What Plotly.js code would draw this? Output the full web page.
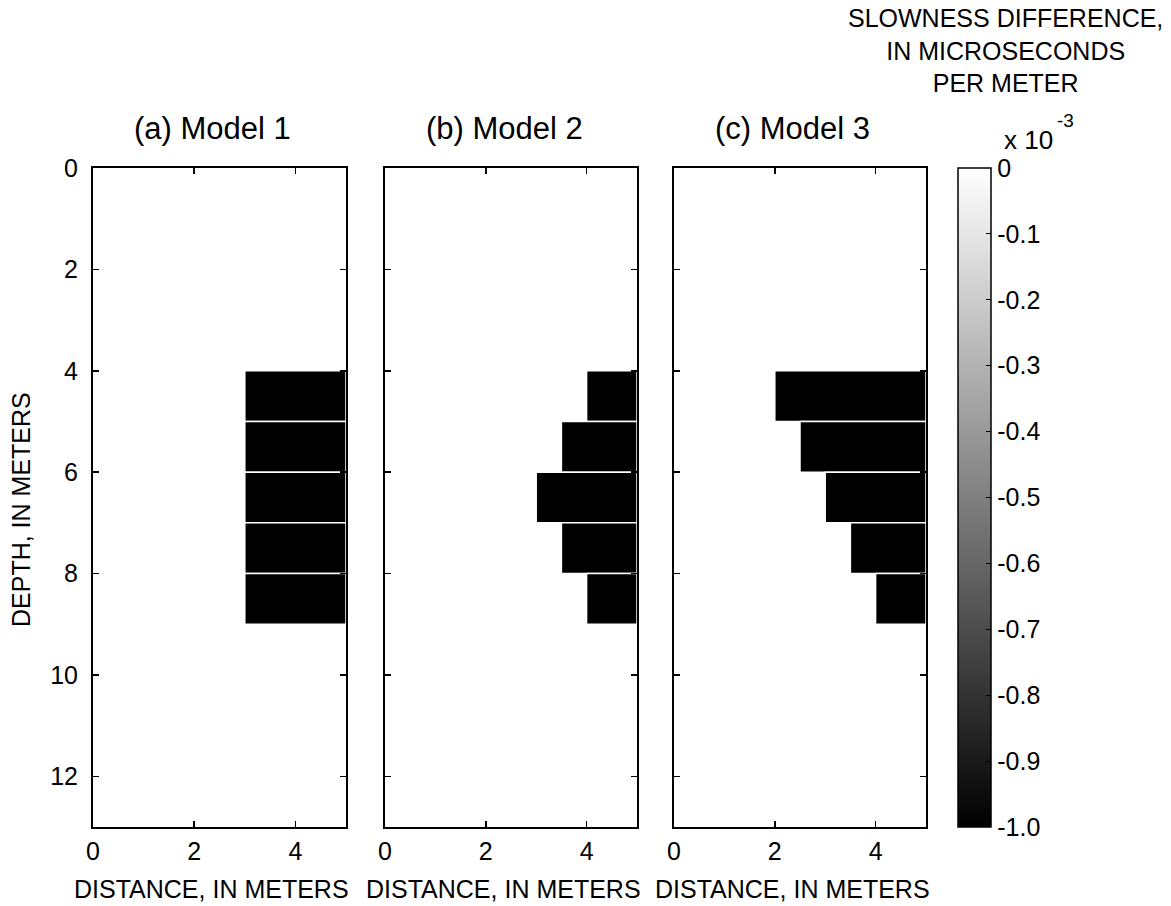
<!DOCTYPE html>
<html>
<head>
<meta charset="utf-8">
<script src="https://cdn.plot.ly/plotly-3.0.1.min.js"></script>
<style>html,body{margin:0;padding:0;background:#fff;}#chart{width:1171px;height:906px;}</style>
</head>
<body>
<div id="chart"></div>
<script>
// Depth rows (centre of each 1 m cell), in meters
var rowDepths = [4.5, 5.5, 6.5, 7.5, 8.5];
// Left edge (distance, m) of the anomaly in each row; anomaly extends to the right edge (5 m)
var rightEdge = 5;
var model1Left = [3, 3, 3, 3, 3];
var model2Left = [4, 3.5, 3, 3.5, 4];
var model3Left = [2, 2.5, 3, 3.5, 4];
// Slowness difference in each row (x 10^-3 microseconds per meter)
var model1Vals = [-1, -1, -1, -1, -1];
var model2Vals = [-1, -1, -1, -1, -1];
var model3Vals = [-1, -1, -1, -1, -1];
var panelTitles = ['(a) Model 1', '(b) Model 2', '(c) Model 3'];
var xTickVals = [0, 2, 4];
var yTickVals = [0, 2, 4, 6, 8, 10, 12];
var cbTickVals = [0, -0.1, -0.2, -0.3, -0.4, -0.5, -0.6, -0.7, -0.8, -0.9, -1.0];
var cbTickText = ['0', '-0.1', '-0.2', '-0.3', '-0.4', '-0.5', '-0.6', '-0.7', '-0.8', '-0.9', '-1.0'];

var W = 1171, H = 906;
var FONT = 'Liberation Sans, Arial, sans-serif';
var panelsPx = [[93, 346], [385, 637], [674, 926]];
var topPx = 168, botPx = 827;
var cbLeft = 958, cbThick = 33;

function mkBar(left, vals, idx, showScale) {
  var tr = {
    type: 'bar', orientation: 'h',
    y: rowDepths,
    x: left.map(function (l) { return rightEdge - l; }),
    base: left,
    width: 1,
    xaxis: idx === 0 ? 'x' : 'x' + (idx + 1),
    yaxis: idx === 0 ? 'y' : 'y' + (idx + 1),
    marker: {
      color: vals, cmin: -1, cmax: 0,
      colorscale: [[0, '#000000'], [1, '#ffffff']],
      line: {color: '#ffffff', width: 1.5},
      showscale: showScale
    },
    hoverinfo: 'x+y', showlegend: false
  };
  if (showScale) {
    tr.marker.colorbar = {
      x: cbLeft / W, xanchor: 'left', xref: 'paper',
      y: 1 - topPx / H, yanchor: 'top', yref: 'paper',
      len: botPx - topPx, lenmode: 'pixels',
      thickness: cbThick, thicknessmode: 'pixels',
      outlinewidth: 1.5, outlinecolor: '#000',
      ticks: 'inside', ticklen: 5, tickcolor: '#000',
      tickvals: cbTickVals, ticktext: cbTickText,
      tickfont: {family: FONT, size: 25, color: '#000'},
      xpad: 0, ypad: 0
    };
  }
  return tr;
}

var data = [
  mkBar(model1Left, model1Vals, 0, false),
  mkBar(model2Left, model2Vals, 1, false),
  mkBar(model3Left, model3Vals, 2, true)
];

var layout = {
  width: W, height: H,
  margin: {l: 0, r: 0, t: 0, b: 0},
  paper_bgcolor: '#fff', plot_bgcolor: '#fff',
  font: {family: FONT, color: '#000'},
  bargap: 0,
  annotations: [],
  shapes: [],
  showlegend: false
};

for (var i = 0; i < 3; i++) {
  var xs = i === 0 ? 'xaxis' : 'xaxis' + (i + 1);
  var ys = i === 0 ? 'yaxis' : 'yaxis' + (i + 1);
  var yname = i === 0 ? 'y' : 'y' + (i + 1);
  var xname = i === 0 ? 'x' : 'x' + (i + 1);
  layout[xs] = {
    domain: [panelsPx[i][0] / W, panelsPx[i][1] / W],
    anchor: yname,
    range: [0, 5], tickvals: xTickVals,
    showline: true, linecolor: '#000', linewidth: 2, mirror: 'ticks',
    ticks: 'inside', ticklen: 6, tickwidth: 1.5, tickcolor: '#000',
    showgrid: false, zeroline: false, fixedrange: true,
    tickfont: {family: FONT, size: 25, color: '#000'},
    ticklabelstandoff: 1
  };
  layout[ys] = {
    domain: [1 - botPx / H, 1 - topPx / H],
    anchor: xname,
    range: [13, 0], tickvals: yTickVals,
    showticklabels: i === 0,
    showline: true, linecolor: '#000', linewidth: 2, mirror: 'ticks',
    ticks: 'inside', ticklen: 6, tickwidth: 1.5, tickcolor: '#000',
    showgrid: false, zeroline: false, fixedrange: true,
    tickfont: {family: FONT, size: 25, color: '#000'},
    ticklabelstandoff: 8
  };
  var cx = (panelsPx[i][0] + panelsPx[i][1]) / 2;
  layout.annotations.push({
    xref: 'paper', yref: 'paper',
    x: (cx - 7) / W, y: 1 - 129 / H,
    xanchor: 'center', yanchor: 'middle', showarrow: false,
    text: panelTitles[i], font: {family: FONT, size: 31, color: '#000'}
  });
  layout.annotations.push({
    xref: 'paper', yref: 'paper',
    x: (cx - 8) / W, y: 1 - 889 / H,
    xanchor: 'center', yanchor: 'middle', showarrow: false,
    text: 'DISTANCE, IN METERS', font: {family: FONT, size: 25, color: '#000'}
  });
}

// left-side inner ticks of the colour bar, placed at the colour-bar tick values
var topFrac = 1 - topPx / H, lenFrac = (botPx - topPx) / H;
cbTickVals.forEach(function (v) {
  if (v === 0 || v === -1) return;
  var yy = topFrac + v * lenFrac;
  layout.shapes.push({
    type: 'line', xref: 'paper', yref: 'paper',
    x0: cbLeft / W, x1: (cbLeft + 5) / W, y0: yy, y1: yy,
    line: {color: '#000', width: 1}
  });
});

layout.annotations.push({
  xref: 'paper', yref: 'paper', x: 21 / W, y: 1 - 510 / H,
  xanchor: 'center', yanchor: 'middle', showarrow: false, textangle: -90,
  text: 'DEPTH, IN METERS', font: {family: FONT, size: 25, color: '#000'}
});
layout.annotations.push({
  xref: 'paper', yref: 'paper', x: 1005 / W, y: 1 - 51 / H,
  xanchor: 'center', yanchor: 'middle', showarrow: false, align: 'center',
  text: 'SLOWNESS DIFFERENCE,<br>IN MICROSECONDS<br>PER METER',
  font: {family: FONT, size: 25, color: '#000'}
});
layout.annotations.push({
  xref: 'paper', yref: 'paper', x: 1002 / W, y: 1 - 140 / H,
  xanchor: 'left', yanchor: 'middle', showarrow: false,
  text: 'x 10', font: {family: FONT, size: 26, color: '#000'}
});
layout.annotations.push({
  xref: 'paper', yref: 'paper', x: 1055 / W, y: 1 - 120 / H,
  xanchor: 'left', yanchor: 'middle', showarrow: false,
  text: '-3', font: {family: FONT, size: 19, color: '#000'}
});

Plotly.newPlot('chart', data, layout, {displayModeBar: false, staticPlot: true});
</script>
</body>
</html>
